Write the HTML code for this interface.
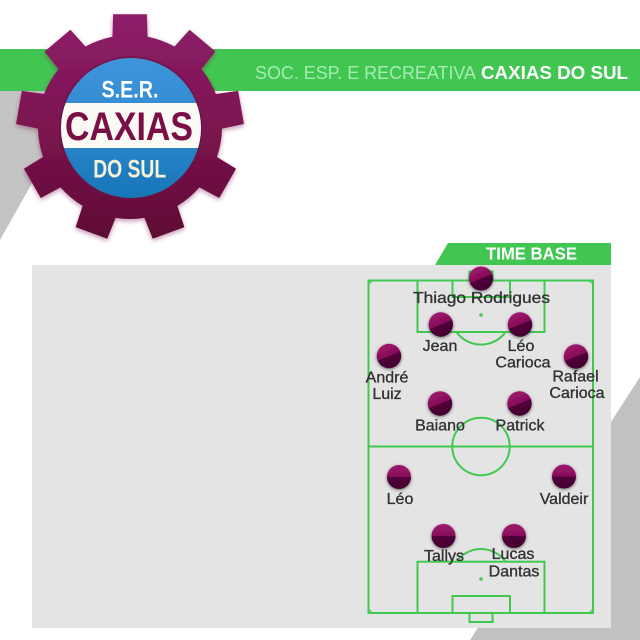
<!DOCTYPE html>
<html>
<head>
<meta charset="utf-8">
<style>
  html,body{margin:0;padding:0;background:#fff;}
  svg{display:block;}
  text{font-family:"Liberation Sans", sans-serif;}
</style>
</head>
<body>
<svg width="640" height="640" viewBox="0 0 640 640" xmlns="http://www.w3.org/2000/svg">
  <defs>
    <linearGradient id="gearGrad" x1="0" y1="0" x2="0" y2="1">
      <stop offset="0" stop-color="#8e1e6a"/>
      <stop offset="0.5" stop-color="#7c1450"/>
      <stop offset="1" stop-color="#5e0a34"/>
    </linearGradient>
    <linearGradient id="blueGrad" x1="0" y1="0" x2="0" y2="1">
      <stop offset="0" stop-color="#3f95dc"/>
      <stop offset="0.5" stop-color="#2f88cf"/>
      <stop offset="1" stop-color="#1676b6"/>
    </linearGradient>
    <linearGradient id="pTilt" x1="0.31" y1="0.03" x2="0.69" y2="0.97">
      <stop offset="0" stop-color="#a0186e"/>
      <stop offset="0.5" stop-color="#860c58"/>
      <stop offset="0.5" stop-color="#52063a"/>
      <stop offset="1" stop-color="#42042e"/>
    </linearGradient>
    <linearGradient id="pFlat" x1="0" y1="0" x2="0" y2="1">
      <stop offset="0" stop-color="#9e186c"/>
      <stop offset="0.5" stop-color="#880e5a"/>
      <stop offset="0.5" stop-color="#52063a"/>
      <stop offset="1" stop-color="#44042f"/>
    </linearGradient>
    <filter id="pShadow" x="-50%" y="-50%" width="200%" height="200%">
      <feDropShadow dx="0" dy="1" stdDeviation="1.6" flood-color="#000" flood-opacity="0.55"/>
    </filter>
    <filter id="gShadow" x="-20%" y="-20%" width="140%" height="140%">
      <feDropShadow dx="0" dy="2" stdDeviation="2.5" flood-color="#7a1a50" flood-opacity="0.45"/>
    </filter>
    <clipPath id="blueClip">
      <circle cx="131" cy="128" r="70"/>
    </clipPath>
  </defs>

  <!-- background shapes -->
  <rect x="0" y="0" width="640" height="640" fill="#ffffff"/>
  <polygon points="0,91 84,91 0,240" fill="#c4c4c4"/>
  <polygon points="640,377 640,640 470,640" fill="#c1c1c1"/>

  <!-- green header bar -->
  <rect x="0" y="49" width="640" height="42" fill="#42c652"/>
  <text x="255" y="79" font-size="18" fill="#a6ecb2" textLength="221" lengthAdjust="spacingAndGlyphs">SOC. ESP. E RECREATIVA</text>
  <text x="481" y="79" font-size="18" font-weight="bold" fill="#ffffff" textLength="147" lengthAdjust="spacingAndGlyphs">CAXIAS DO SUL</text>

  <!-- gray panel -->
  <rect x="32" y="265" width="579" height="363" fill="#e4e4e4"/>

  <!-- TIME BASE banner -->
  <polygon points="448,243 611,243 611,265 435,265" fill="#42c652"/>
  <text x="531.5" y="259.5" font-size="17.5" font-weight="bold" fill="#ffffff" text-anchor="middle" textLength="91" lengthAdjust="spacingAndGlyphs">TIME BASE</text>

  <!-- pitch -->
  <g fill="none" stroke="#3fc94f" stroke-width="2">
    <rect x="368.5" y="280.5" width="224.5" height="332.5"/>
    <line x1="368.5" y1="446.5" x2="593" y2="446.5"/>
    <circle cx="481" cy="446.5" r="28.7"/>
    <!-- top -->
    <rect x="417.5" y="280.5" width="127" height="51.5"/>
    <rect x="452.5" y="280.5" width="57.5" height="16.5"/>
    <rect x="469.5" y="271.5" width="23" height="9"/>
    <path d="M 456.5 332 A 30 30 0 0 0 505.5 332"/>
    <!-- bottom -->
    <rect x="417.5" y="561.7" width="127" height="51.3"/>
    <rect x="452.5" y="596" width="57.5" height="17"/>
    <rect x="469.5" y="613" width="23" height="9"/>
    <path d="M 456.5 561.7 A 30 30 0 0 1 505.5 561.7"/>
  </g>
  <g fill="none" stroke="#3fc94f" stroke-width="1.2">
    <path d="M 368.5 283.5 A 3 3 0 0 0 371.5 280.5"/>
    <path d="M 590 280.5 A 3 3 0 0 0 593 283.5"/>
    <path d="M 368.5 610 A 3 3 0 0 1 371.5 613"/>
    <path d="M 590 613 A 3 3 0 0 1 593 610"/>
  </g>
  <circle cx="481" cy="315" r="1.8" fill="#3fc94f"/>
  <circle cx="481" cy="579" r="1.8" fill="#3fc94f"/>

  <!-- players -->
  <g filter="url(#pShadow)">
    <circle cx="481" cy="278.5" r="12" fill="url(#pTilt)"/>
    <circle cx="440.8" cy="324.5" r="12.2" fill="url(#pTilt)"/>
    <circle cx="520" cy="324.5" r="12.2" fill="url(#pTilt)"/>
    <circle cx="389" cy="356" r="12.2" fill="url(#pTilt)"/>
    <circle cx="576" cy="356.5" r="12.2" fill="url(#pTilt)"/>
    <circle cx="440" cy="403.5" r="12.2" fill="url(#pTilt)"/>
    <circle cx="519.5" cy="403.5" r="12.2" fill="url(#pTilt)"/>
    <circle cx="399" cy="477" r="12" fill="url(#pFlat)"/>
    <circle cx="564" cy="476.5" r="12" fill="url(#pFlat)"/>
    <circle cx="443.5" cy="536" r="12" fill="url(#pFlat)"/>
    <circle cx="514" cy="536" r="12" fill="url(#pFlat)"/>
  </g>

  <g font-size="16" fill="#333333" stroke="#333333" stroke-width="0.35" text-anchor="middle">
    <text x="481.5" y="303" textLength="137" lengthAdjust="spacingAndGlyphs">Thiago Rodrigues</text>
    <text x="440" y="351">Jean</text>
    <text x="521" y="351">Léo</text>
    <text x="523" y="367.5">Carioca</text>
    <text x="387" y="382.5">André</text>
    <text x="387" y="399">Luiz</text>
    <text x="575.5" y="381.5">Rafael</text>
    <text x="577" y="398">Carioca</text>
    <text x="440" y="430.5">Baiano</text>
    <text x="520" y="430.5">Patrick</text>
    <text x="400" y="504">Léo</text>
    <text x="564" y="504">Valdeir</text>
    <text x="444" y="561">Tallys</text>
    <text x="513" y="559">Lucas</text>
    <text x="514" y="576.5">Dantas</text>
  </g>

  <!-- gear logo -->
  <g filter="url(#gShadow)">
    <path fill="url(#gearGrad)" d="M 112.45 36.69 L 113.15 14.25 L 146.85 14.25 L 147.55 36.69
      A 92 92 0 0 1 174.60 46.54 L 189.57 29.80 L 215.39 51.46 L 201.49 69.10
      A 92 92 0 0 1 215.89 94.03 L 238.11 90.83 L 243.96 124.02 L 221.99 128.61
      A 92 92 0 0 1 216.99 156.95 L 236.07 168.78 L 219.22 197.97 L 199.43 187.36
      A 92 92 0 0 1 177.38 205.86 L 184.40 227.18 L 152.73 238.71 L 144.39 217.87
      A 92 92 0 0 1 115.61 217.87 L 107.27 238.71 L 75.60 227.18 L 82.62 205.86
      A 92 92 0 0 1 60.57 187.36 L 40.78 197.97 L 23.93 168.78 L 43.01 156.95
      A 92 92 0 0 1 38.01 128.61 L 16.04 124.02 L 21.89 90.83 L 44.11 94.03
      A 92 92 0 0 1 58.51 69.10 L 44.61 51.46 L 70.43 29.80 L 85.40 46.54
      A 92 92 0 0 1 112.45 36.69 Z"/>
  </g>
  <circle cx="131" cy="128" r="72" fill="#6e1244" opacity="0.6"/>
  <circle cx="131" cy="128" r="70" fill="url(#blueGrad)"/>
  <rect x="55" y="103" width="152" height="45" fill="#fbfaf4" clip-path="url(#blueClip)"/>
  <text x="130" y="97.5" font-size="24.5" font-weight="bold" fill="#ffffff" text-anchor="middle" textLength="57" lengthAdjust="spacingAndGlyphs">S.E.R.</text>
  <text x="129" y="140" font-size="40" font-weight="bold" fill="#7a0f46" text-anchor="middle" textLength="128" lengthAdjust="spacingAndGlyphs">CAXIAS</text>
  <text x="129.7" y="177.3" font-size="25" font-weight="bold" fill="#f5f2d8" text-anchor="middle" textLength="73" lengthAdjust="spacingAndGlyphs">DO SUL</text>
</svg>
</body>
</html>
